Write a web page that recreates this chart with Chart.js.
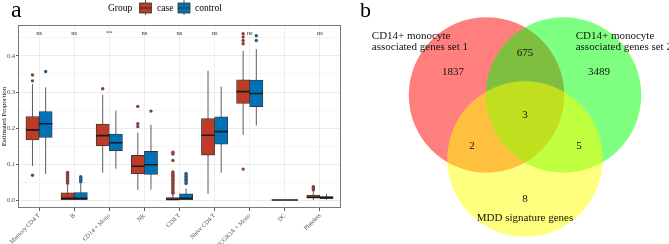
<!DOCTYPE html>
<html>
<head>
<meta charset="utf-8">
<script src="https://cdn.jsdelivr.net/npm/chart.js@4.4.1/dist/chart.umd.min.js"></script>
<style>
  html, body { margin: 0; padding: 0; background: #fff; }
  #wrap { position: relative; width: 669px; height: 244px; overflow: hidden; }
  #boxChart { position: absolute; left: 0; top: 0; }
  #vennChart { position: absolute; left: 340px; top: 0; }
</style>
</head>
<body>
<div id="wrap">
  <canvas id="boxChart" width="345" height="244"></canvas>
  <canvas id="vennChart" width="329" height="244"></canvas>
</div>
<script>
// ---- panel a data ----
var categories = ['Memory CD4 T', 'B', 'CD14 + Mono', 'NK', 'CD8 T', 'Naive CD4 T', 'FCGR3A + Mono', 'DC', 'Platelets'];
var groups = ['case', 'control'];
var sigLabels = ['ns', 'ns', '**', 'ns', 'ns', 'ns', 'ns', '', 'ns'];

var caseQ1     = [0.167, 0.001, 0.151, 0.073, 0.000, 0.125, 0.268, 0, 0.005];
var caseMedian = [0.195, 0.005, 0.179, 0.094, 0.002, 0.180, 0.301, 0, 0.008];
var caseQ3     = [0.232, 0.020, 0.211, 0.124, 0.007, 0.226, 0.334, 0, 0.014];
var caseLow    = [0.095, 0.000, 0.076, 0.028, 0.000, 0.017, 0.181, 0, 0.000];
var caseHigh   = [0.322, 0.044, 0.292, 0.187, 0.016, 0.359, 0.414, 0, 0.022];
var caseOutliers = [
  [0.347, 0.331, 0.069],
  [0.047, 0.051, 0.055, 0.059, 0.063, 0.067, 0.072, 0.077],
  [0.309],
  [0.260, 0.212, 0.204],
  [0.133, 0.128, 0.110, 0.078, 0.074, 0.070, 0.066, 0.062, 0.058, 0.054, 0.050, 0.046, 0.042, 0.038, 0.034, 0.030, 0.026, 0.022, 0.019],
  [],
  [0.462, 0.453, 0.443, 0.434, 0.086],
  [],
  [0.028, 0.031, 0.034, 0.037]
];

var controlQ1     = [0.174, 0.001, 0.137, 0.071, 0.001, 0.155, 0.259, 0, 0.004];
var controlMedian = [0.212, 0.005, 0.159, 0.098, 0.005, 0.190, 0.296, 0, 0.007];
var controlQ3     = [0.246, 0.021, 0.183, 0.135, 0.017, 0.231, 0.333, 0, 0.010];
var controlLow    = [0.072, 0.000, 0.087, 0.029, 0.000, 0.076, 0.207, 0, 0.001];
var controlHigh   = [0.313, 0.045, 0.248, 0.209, 0.032, 0.315, 0.419, 0, 0.017];
var controlOutliers = [
  [0.357],
  [0.050, 0.054, 0.058, 0.062, 0.065],
  [],
  [0.247],
  [0.046, 0.050, 0.054, 0.058, 0.062, 0.066, 0.070, 0.074],
  [],
  [0.456, 0.443],
  [],
  []
];

var yMajorTicks = [0, 0.1, 0.2, 0.3, 0.4];
var yMinorTicks = [0.05, 0.15, 0.25, 0.35, 0.45];
var yTickLabels = ['0.0', '0.1', '0.2', '0.3', '0.4'];

// ---- panel b data ----
var vennSetNames = [['CD14+ monocyte', 'associated genes set 1'], ['CD14+ monocyte', 'associated genes set 2'], ['MDD signature genes']];
var vennRegions = ['1', '2', '3', '1&2', '1&3', '2&3', '1&2&3'];
var vennCounts = [1837, 3489, 8, 675, 2, 5, 3];

// ---- styling / layout ----
var SERIF = 'Liberation Serif, Times New Roman, serif';
var caseFill = '#BC3C29', controlFill = '#0072B5';
var caseDot = '#8A4038', controlDot = '#2F5B7E';
var edge = '#333333';
var dodge = 0.1875;  // half of dodge width 0.75

function boxData(q1, q3, off) {
  return categories.map(function (c, i) { return { x: i + off, y: [q1[i], q3[i]] }; });
}
function whiskerData(lo, hi, off) {
  var out = [];
  categories.forEach(function (c, i) {
    out.push({ x: i + off, y: lo[i] }, { x: i + off, y: hi[i] }, { x: i + off, y: null });
  });
  return out;
}
function medianData(med, off) {
  var out = [];
  categories.forEach(function (c, i) {
    out.push({ x: i + off - dodge, y: med[i] }, { x: i + off + dodge, y: med[i] }, { x: i + off, y: null });
  });
  return out;
}
function outlierData(list, off) {
  var out = [];
  list.forEach(function (vals, i) {
    vals.forEach(function (v) { out.push({ x: i + off, y: v }); });
  });
  return out;
}

var lineStyle = { type: 'line', borderColor: edge, borderWidth: 0.8, pointRadius: 0, spanGaps: false, fill: false };

// sig labels, legend, border, panel tag
var boxDecor = {
  id: 'boxDecor',
  afterDatasetsDraw: function (chart) {
    var c = chart.ctx, xs = chart.scales.x, ys = chart.scales.y;
    c.save();
    c.fillStyle = '#333';
    c.font = '6.5px ' + SERIF;
    c.textAlign = 'center';
    c.textBaseline = 'middle';
    sigLabels.forEach(function (s, i) {
      if (s) c.fillText(s, xs.getPixelForValue(i), ys.getPixelForValue(0.463));
    });
    c.restore();
  },
  afterDraw: function (chart) {
    var c = chart.ctx, a = chart.chartArea;
    c.save();
    c.strokeStyle = '#6b6b6b';
    c.lineWidth = 0.9;
    c.strokeRect(a.left + 0.5, a.top + 0.5, a.right - a.left - 1, a.bottom - a.top - 1);

    c.fillStyle = '#000';
    c.font = '24px ' + SERIF;
    c.textBaseline = 'alphabetic';
    c.textAlign = 'left';
    c.fillText('a', 11, 17);

    c.font = '9.5px ' + SERIF;
    c.textBaseline = 'middle';
    c.fillText('Group', 108, 8);
    var keys = [{ x: 139.5, fill: caseFill, label: 'case', tx: 157 }, { x: 178, fill: controlFill, label: 'control', tx: 195 }];
    keys.forEach(function (k) {
      var cx = k.x + 6;
      c.strokeStyle = edge;
      c.lineWidth = 0.8;
      c.beginPath(); c.moveTo(cx, 0); c.lineTo(cx, 15); c.stroke();
      c.fillStyle = k.fill;
      c.fillRect(k.x, 3, 12, 10);
      c.strokeRect(k.x, 3, 12, 10);
      c.lineWidth = 1.3;
      c.beginPath(); c.moveTo(k.x, 8); c.lineTo(k.x + 12, 8); c.stroke();
      c.fillStyle = '#000';
      c.fillText(k.label, k.tx, 8);
    });
    c.restore();
  }
};

new Chart(document.getElementById('boxChart').getContext('2d'), {
  type: 'bar',
  data: {
    datasets: [
      Object.assign({}, lineStyle, { label: 'case whisker', data: whiskerData(caseLow, caseHigh, -dodge), order: 3 }),
      Object.assign({}, lineStyle, { label: 'control whisker', data: whiskerData(controlLow, controlHigh, dodge), order: 3 }),
      { label: 'case', data: boxData(caseQ1, caseQ3, -dodge), backgroundColor: caseFill, borderColor: edge, borderWidth: 0.8, borderSkipped: false, grouped: false, categoryPercentage: 1, barPercentage: 1, order: 2 },
      { label: 'control', data: boxData(controlQ1, controlQ3, dodge), backgroundColor: controlFill, borderColor: edge, borderWidth: 0.8, borderSkipped: false, grouped: false, categoryPercentage: 1, barPercentage: 1, order: 2 },
      Object.assign({}, lineStyle, { label: 'case median', data: medianData(caseMedian, -dodge), borderColor: '#1a1a1a', borderWidth: 1.6, order: 1 }),
      Object.assign({}, lineStyle, { label: 'control median', data: medianData(controlMedian, dodge), borderColor: '#1a1a1a', borderWidth: 1.6, order: 1 }),
      { type: 'scatter', label: 'case outliers', data: outlierData(caseOutliers, -dodge), backgroundColor: caseDot, borderWidth: 0, pointRadius: 1.7, order: 0 },
      { type: 'scatter', label: 'control outliers', data: outlierData(controlOutliers, dodge), backgroundColor: controlDot, borderWidth: 0, pointRadius: 1.7, order: 0 }
    ]
  },
  options: {
    responsive: false,
    animation: false,
    devicePixelRatio: 1,
    events: [],
    layout: { padding: { top: 25, right: 1, left: 0, bottom: 0 } },
    plugins: { legend: { display: false }, tooltip: { enabled: false } },
    scales: {
      x: {
        type: 'linear', min: -0.6, max: 8.6, offset: false,
        afterBuildTicks: function (s) { s.ticks = categories.map(function (c, i) { return { value: i }; }); },
        afterFit: function (s) { s.height = 36; },
        border: { display: false },
        grid: { offset: false, color: '#EBEBEB', lineWidth: 0.8, tickColor: edge, tickLength: 3 },
        ticks: {
          autoSkip: false, minRotation: 45, maxRotation: 45, padding: 1,
          color: '#4D4D4D', font: { family: SERIF, size: 6.2 },
          callback: function (v) { return categories[v]; }
        }
      },
      y: {
        min: -0.022, max: 0.486,
        afterBuildTicks: function (s) {
          s.ticks = yMajorTicks.concat(yMinorTicks).map(function (v) { return { value: v }; });
        },
        afterFit: function (s) { s.width = 18; },
        border: { display: false },
        grid: {
          color: function (ctx) { return ctx.tick && yMajorTicks.indexOf(ctx.tick.value) >= 0 ? '#E6E6E6' : '#F3F3F3'; },
          lineWidth: 0.8,
          tickColor: function (ctx) { return ctx.tick && yMajorTicks.indexOf(ctx.tick.value) >= 0 ? edge : 'rgba(0,0,0,0)'; },
          tickLength: 2
        },
        ticks: {
          padding: 1, color: '#4D4D4D', font: { family: SERIF, size: 6.5 },
          callback: function (v) { var k = yMajorTicks.indexOf(v); return k < 0 ? '' : yTickLabels[k]; }
        },
        title: { display: true, text: 'Estimated Proportion', color: '#000', font: { family: SERIF, size: 7 }, padding: 0 }
      }
    }
  },
  plugins: [boxDecor]
});

// ---- panel b: three-set Venn ----
var vennCenterX = [-0.5, 0.5, 0];
var vennCenterY = [0.416, 0.416, -0.416];
var vennColors = ['rgba(255,0,0,0.5)', 'rgba(0,255,0,0.5)', 'rgba(255,255,0,0.5)'];
var vennRadius = 1.01;
// label anchors (layout, in venn units)
var countPos = [[-0.935, 0.714], [0.961, 0.714], [0, -0.935], [0, 0.961], [-0.688, -0.247], [0.701, -0.247], [0, 0.156]];
var setNamePos = [[-1.99, 1.182, 'left'], [0.658, 1.182, 'left'], [0, -1.182, 'center']];

var vennText = {
  id: 'vennText',
  afterDatasetsDraw: function (chart) {
    var c = chart.ctx, xs = chart.scales.x, ys = chart.scales.y;
    c.save();
    c.fillStyle = '#111';
    c.font = '11px ' + SERIF;
    c.textBaseline = 'middle';
    c.textAlign = 'center';
    vennCounts.forEach(function (n, i) {
      c.fillText(String(n), xs.getPixelForValue(countPos[i][0]), ys.getPixelForValue(countPos[i][1]));
    });
    vennSetNames.forEach(function (lines, i) {
      c.textAlign = setNamePos[i][2];
      lines.forEach(function (t, j) {
        c.fillText(t, xs.getPixelForValue(setNamePos[i][0]), ys.getPixelForValue(setNamePos[i][1]) + j * 11);
      });
    });
    c.fillStyle = '#000';
    c.font = '22px ' + SERIF;
    c.textAlign = 'left';
    c.textBaseline = 'alphabetic';
    c.fillText('b', 20, 17);
    c.restore();
  }
};

new Chart(document.getElementById('vennChart').getContext('2d'), {
  type: 'scatter',
  data: {
    datasets: [{
      label: 'sets',
      data: vennCenterX.map(function (x, i) { return { x: x, y: vennCenterY[i] }; }),
      backgroundColor: vennColors,
      borderWidth: 0,
      pointRadius: function (ctx) {
        var s = ctx.chart.scales.x;
        return Math.abs(s.getPixelForValue(vennRadius) - s.getPixelForValue(0));
      }
    }]
  },
  options: {
    responsive: false,
    animation: false,
    devicePixelRatio: 1,
    events: [],
    layout: { padding: 0 },
    plugins: { legend: { display: false }, tooltip: { enabled: false } },
    scales: {
      x: { display: false, min: -2.403, max: 1.870 },
      y: { display: false, min: -1.519, max: 1.649 }
    }
  },
  plugins: [vennText]
});
</script>
</body>
</html>
